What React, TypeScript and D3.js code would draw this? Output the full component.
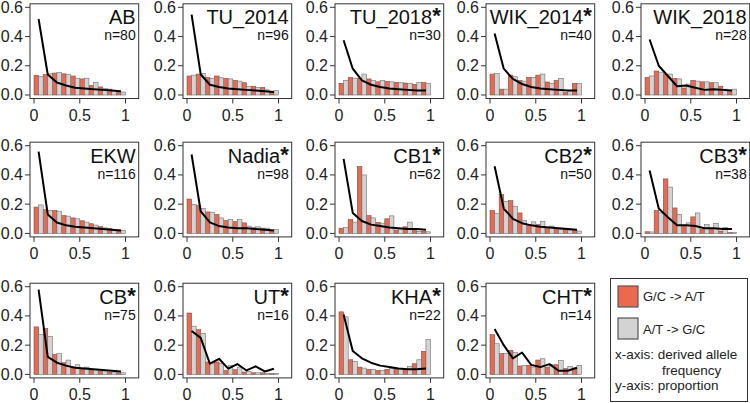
import React, { useEffect, useRef } from 'react';
import * as d3 from 'd3';

// panel order: row by row, left to right
const populations = ['AB', 'TU_2014', 'TU_2018', 'WIK_2014', 'WIK_2018', 'EKW', 'Nadia', 'CB1', 'CB2', 'CB3', 'CB', 'UT', 'KHA', 'CHT'];
const significant = [false, false, true, true, false, false, true, true, true, true, true, true, true, true];
const sampleSizes = [80, 96, 30, 40, 28, 116, 98, 62, 50, 38, 75, 16, 22, 14];

// derived allele frequency bins (left edge of each 0.1 bin)
const binStarts = [0, 0.1, 0.2, 0.3, 0.4, 0.5, 0.6, 0.7, 0.8, 0.9];

// G/C -> A/T proportions
const gcToAt = [
  [0.135, 0.14, 0.15, 0.145, 0.13, 0.11, 0.065, 0.055, 0.04, 0.02],
  [0.13, 0.143, 0.12, 0.13, 0.114, 0.1, 0.084, 0.06, 0.052, 0.02],
  [0.08, 0.12, 0.115, 0.11, 0.09, 0.093, 0.087, 0.082, 0.073, 0.085],
  [0.143, 0.04, 0.136, 0.1, 0.12, 0.136, 0.089, 0.1, 0.016, 0.08],
  [0.12, 0.164, 0.143, 0.114, 0.048, 0.1, 0.09, 0.084, 0.06, 0.023],
  [0.18, 0.163, 0.156, 0.122, 0.106, 0.086, 0.066, 0.047, 0.032, 0.023],
  [0.235, 0.19, 0.147, 0.129, 0.088, 0.08, 0.072, 0.038, 0.036, 0.023],
  [0.034, 0.095, 0.457, 0.122, 0.075, 0.1, 0.023, 0.045, 0.02, 0.014],
  [0.156, 0.265, 0.224, 0.14, 0.06, 0.06, 0.032, 0.034, 0.027, 0.023],
  [0.011, 0.156, 0.373, 0.174, 0.054, 0.113, 0.027, 0.034, 0.016, 0.005],
  [0.325, 0.313, 0.135, 0.08, 0.046, 0.034, 0.027, 0.02, 0.016, 0.011],
  [0.42, 0.306, 0.085, 0.085, 0.027, 0.032, 0.016, 0.011, 0.011, 0.005],
  [0.428, 0.1, 0.05, 0.034, 0.027, 0.034, 0.034, 0.034, 0.073, 0.158],
  [0.272, 0.142, 0.165, 0.057, 0.062, 0.098, 0.05, 0.066, 0.039, 0.043],
];

// A/T -> G/C proportions
const atToGc = [
  [0.125, 0.145, 0.155, 0.14, 0.115, 0.115, 0.085, 0.045, 0.03, 0.02],
  [0.136, 0.148, 0.114, 0.118, 0.11, 0.095, 0.06, 0.052, 0.035, 0.03],
  [0.1, 0.115, 0.143, 0.1, 0.1, 0.09, 0.085, 0.08, 0.085, 0.08],
  [0.148, 0.04, 0.125, 0.095, 0.12, 0.143, 0.08, 0.114, 0.03, 0.08],
  [0.13, 0.152, 0.143, 0.11, 0.075, 0.095, 0.09, 0.084, 0.04, 0.04],
  [0.195, 0.158, 0.152, 0.118, 0.1, 0.077, 0.057, 0.038, 0.027, 0.02],
  [0.197, 0.17, 0.145, 0.106, 0.095, 0.095, 0.05, 0.045, 0.036, 0.027],
  [0.04, 0.077, 0.4, 0.106, 0.07, 0.12, 0.032, 0.077, 0.014, 0.011],
  [0.136, 0.22, 0.186, 0.09, 0.079, 0.083, 0.05, 0.027, 0.023, 0.016],
  [0.01, 0.14, 0.317, 0.129, 0.072, 0.14, 0.061, 0.068, 0.04, 0.005],
  [0.272, 0.26, 0.142, 0.098, 0.066, 0.05, 0.034, 0.025, 0.016, 0.011],
  [0.33, 0.28, 0.075, 0.075, 0.062, 0.05, 0.02, 0.011, 0.007, 0.005],
  [0.394, 0.089, 0.043, 0.034, 0.027, 0.039, 0.039, 0.055, 0.1, 0.238],
  [0.21, 0.142, 0.149, 0.062, 0.05, 0.107, 0.066, 0.096, 0.055, 0.062],
];

// black line per panel
const expected = [
  [0.52, 0.14, 0.085, 0.065, 0.05, 0.045, 0.04, 0.035, 0.03, 0.025],
  [0.55, 0.14, 0.07, 0.055, 0.045, 0.04, 0.035, 0.03, 0.025, 0.02],
  [0.375, 0.18, 0.1, 0.07, 0.055, 0.045, 0.04, 0.035, 0.03, 0.03],
  [0.42, 0.18, 0.11, 0.075, 0.055, 0.045, 0.04, 0.035, 0.03, 0.03],
  [0.38, 0.2, 0.13, 0.06, 0.065, 0.05, 0.035, 0.04, 0.035, 0.03],
  [0.56, 0.13, 0.075, 0.055, 0.045, 0.04, 0.035, 0.03, 0.025, 0.02],
  [0.54, 0.15, 0.075, 0.05, 0.04, 0.035, 0.035, 0.03, 0.025, 0.02],
  [0.51, 0.14, 0.085, 0.06, 0.05, 0.04, 0.035, 0.03, 0.03, 0.025],
  [0.46, 0.17, 0.1, 0.07, 0.055, 0.045, 0.04, 0.035, 0.03, 0.025],
  [0.43, 0.17, 0.11, 0.055, 0.055, 0.05, 0.035, 0.035, 0.03, 0.03],
  [0.58, 0.12, 0.08, 0.06, 0.045, 0.04, 0.035, 0.03, 0.025, 0.02],
  [0.297, 0.25, 0.073, 0.107, 0.039, 0.071, 0.027, 0.055, 0.02, 0.039],
  [0.41, 0.16, 0.11, 0.08, 0.06, 0.05, 0.04, 0.035, 0.035, 0.04],
  [0.31, 0.2, 0.11, 0.15, 0.065, 0.05, 0.07, 0.025, 0.025, 0.045],
];

const xTicks = [0, 0.5, 1];
const yTicks = [0, 0.2, 0.4, 0.6];
const legendLabels = ['G/C -> A/T', 'A/T -> G/C'];

const RED = '#EA6950';
const GREY = '#D3D3D3';
const FONT = '"Liberation Sans", Arial, Helvetica, sans-serif';

const colLefts = [30, 183, 335, 486, 641];
const rowTops = [3.8, 142.2, 283.2];
const boxW = 108.7;
const boxH = 94.7;

const App = () => {
  const svgRef = useRef(null);

  useEffect(() => {
    const svg = d3.select(svgRef.current);
    svg.selectAll('*').remove();

    populations.forEach((pop, i) => {
      const left = colLefts[i % 5];
      const top = rowTops[Math.floor(i / 5)];
      // R-style 4% padding, xlim = c(0, 1.1), ylim = c(0, 0.6)
      const x = d3.scaleLinear().domain([-0.044, 1.144]).range([left, left + boxW]);
      const y = d3.scaleLinear().domain([-0.024, 0.624]).range([top + boxH, top]);
      const g = svg.append('g');

      const bw = 0.05;
      g.selectAll('rect.gc')
        .data(binStarts)
        .enter()
        .append('rect')
        .attr('x', d => x(d))
        .attr('y', (d, j) => y(gcToAt[i][j]))
        .attr('width', x(bw) - x(0))
        .attr('height', (d, j) => y(0) - y(gcToAt[i][j]))
        .attr('fill', RED)
        .attr('stroke', '#6a5550')
        .attr('stroke-width', 0.6);

      g.selectAll('rect.at')
        .data(binStarts)
        .enter()
        .append('rect')
        .attr('x', d => x(d + bw))
        .attr('y', (d, j) => y(atToGc[i][j]))
        .attr('width', x(bw) - x(0))
        .attr('height', (d, j) => y(0) - y(atToGc[i][j]))
        .attr('fill', GREY)
        .attr('stroke', '#707070')
        .attr('stroke-width', 0.6);

      const line = d3.line<number>()
        .x((d, j) => x(binStarts[j] + 0.05))
        .y(d => y(d));
      g.append('path')
        .attr('d', line(expected[i]))
        .attr('fill', 'none')
        .attr('stroke', '#000')
        .attr('stroke-width', 2)
        .attr('stroke-linejoin', 'round');

      g.append('rect')
        .attr('x', left)
        .attr('y', top)
        .attr('width', boxW)
        .attr('height', boxH)
        .attr('fill', 'none')
        .attr('stroke', '#333')
        .attr('stroke-width', 1);

      // y axis
      yTicks.forEach(t => {
        g.append('line')
          .attr('x1', left - 5).attr('x2', left)
          .attr('y1', y(t)).attr('y2', y(t))
          .attr('stroke', '#333');
        g.append('text')
          .attr('x', left - 7)
          .attr('y', y(t) + 5.5)
          .attr('text-anchor', 'end')
          .style('font-family', FONT)
          .style('font-size', '16px')
          .style('fill', '#222')
          .text(t.toFixed(1));
      });

      // x axis
      xTicks.forEach(t => {
        g.append('line')
          .attr('x1', x(t)).attr('x2', x(t))
          .attr('y1', top + boxH).attr('y2', top + boxH + 5)
          .attr('stroke', '#333');
        g.append('text')
          .attr('x', x(t))
          .attr('y', top + boxH + 22)
          .attr('text-anchor', 'middle')
          .style('font-family', FONT)
          .style('font-size', '16px')
          .style('fill', '#222')
          .text(String(t));
      });

      const title = g.append('text')
        .attr('x', left + boxW - 3)
        .attr('y', top + 20.5)
        .attr('text-anchor', 'end')
        .style('font-family', FONT)
        .style('font-size', '20px')
        .style('fill', '#111')
        .text(pop);
      if (significant[i]) {
        // superscript-style asterisk
        title.append('tspan')
          .attr('dy', -1)
          .style('font-size', '22px')
          .style('font-weight', 'bold')
          .text('*');
      }

      g.append('text')
        .attr('x', left + boxW - 3)
        .attr('y', top + 36.5)
        .attr('text-anchor', 'end')
        .style('font-family', FONT)
        .style('font-size', '14px')
        .style('fill', '#111')
        .text(`n=${sampleSizes[i]}`);
    });

    // legend
    const lg = svg.append('g');
    lg.append('rect')
      .attr('x', 610.5).attr('y', 278.5)
      .attr('width', 137).attr('height', 123)
      .attr('fill', '#fff')
      .attr('stroke', '#333');
    [RED, GREY].forEach((c, k) => {
      lg.append('rect')
        .attr('x', 618).attr('y', 286 + k * 32)
        .attr('width', 20).attr('height', 21)
        .attr('fill', c)
        .attr('stroke', '#555')
        .attr('stroke-width', 1.2);
      lg.append('text')
        .attr('x', 643).attr('y', 301 + k * 33)
        .style('font-family', FONT)
        .style('font-size', '13px')
        .style('fill', '#222')
        .text(legendLabels[k]);
    });
    const notes = [
      { x: 615, y: 359, t: 'x-axis: derived allele' },
      { x: 662, y: 375, t: 'frequency' },
      { x: 615, y: 390, t: 'y-axis: proportion' },
    ];
    notes.forEach(n => {
      lg.append('text')
        .attr('x', n.x).attr('y', n.y)
        .style('font-family', FONT)
        .style('font-size', '13.5px')
        .style('fill', '#222')
        .text(n.t);
    });
  }, []);

  return (
    <svg
      ref={svgRef}
      width={750}
      height={403}
      style={{ position: 'absolute', left: 0, top: 0, background: '#fff' }}
    />
  );
};

export default App;
